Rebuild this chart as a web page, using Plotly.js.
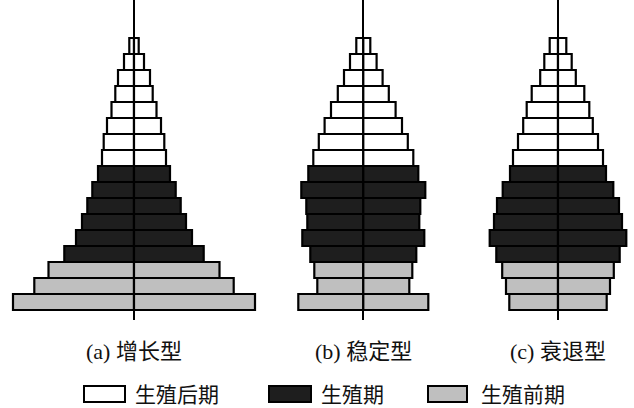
<!DOCTYPE html>
<html>
<head>
<meta charset="utf-8">
<script src="https://cdn.plot.ly/plotly-3.0.1.min.js"></script>
<style>body{margin:0;background:#fff}</style>
</head>
<body>
<div id="chart" style="width:634px;height:408px"></div>
<script>
// age groups, bottom (youngest) to top (oldest)
var ageGroups = ['0-4', '5-9', '10-14', '15-19', '20-24', '25-29', '30-34', '35-39', '40-44',
                 '45-49', '50-54', '55-59', '60-64', '65-69', '70-74', '75-79', '80+'];
var stageOf = ['pre', 'pre', 'pre', 'rep', 'rep', 'rep', 'rep', 'rep', 'rep',
               'post', 'post', 'post', 'post', 'post', 'post', 'post', 'post'];

// half widths (one side of the pyramid), bottom to top
var growing   = [121, 99.7, 85.5, 69.7, 58, 52, 46.7, 41.7, 36, 32, 30.3, 27, 22.5, 18.7, 16, 10, 4.7];
var stable    = [65, 46, 49, 53, 61, 56, 57, 62, 55, 50, 44.5, 38.7, 32.3, 25.5, 19.3, 13.3, 7];
var declining = [48.7, 52, 55.8, 61.7, 68.3, 64, 61, 55.3, 48, 45, 40, 34.8, 31.3, 26.3, 17.8, 13.7, 8.3];

var captions = ['(a) 增长型', '(b) 稳定型', '(c) 衰退型'];
var legendKeys = ['post', 'rep', 'pre'];
var legendLabels = ['生殖后期', '生殖期', '生殖前期'];

var stageColor = { post: '#ffffff', rep: '#1e1e1e', pre: '#bfbfbf' };
var colors = stageOf.map(function(s) { return stageColor[s]; });

var W = 634, plotH = 320;
var pyramids = [
    { vals: growing,   ax: 'x',  px: [0, 268],     half: 134 },
    { vals: stable,    ax: 'x2', px: [290, 436.6], half: 73.3 },
    { vals: declining, ax: 'x3', px: [485, 631],   half: 73 }
];

var data = [];
pyramids.forEach(function(p) {
    [-1, 1].forEach(function(side) {
        data.push({
            type: 'bar',
            orientation: 'h',
            y: ageGroups,
            x: p.vals.map(function(v) { return side * v; }),
            xaxis: p.ax,
            yaxis: 'y',
            marker: { color: colors, line: { color: '#000', width: 2.2 } },
            hoverinfo: 'skip',
            showlegend: false
        });
    });
});

var layout = {
    width: W,
    height: 408,
    margin: { l: 0, r: 0, t: 0, b: 88 },
    paper_bgcolor: '#fff',
    plot_bgcolor: 'rgba(0,0,0,0)',
    barmode: 'overlay',
    bargap: 0,
    showlegend: false,
    yaxis: { type: 'category', range: [-1.125, 18.875], visible: false, fixedrange: true },
    annotations: [],
    shapes: []
};

pyramids.forEach(function(p, i) {
    var name = i === 0 ? 'xaxis' : 'xaxis' + (i + 1);
    layout[name] = {
        domain: [p.px[0] / W, p.px[1] / W],
        range: [-p.half, p.half],
        anchor: 'y',
        showgrid: false,
        showticklabels: false,
        ticks: '',
        showline: false,
        zeroline: true,
        zerolinecolor: '#000',
        zerolinewidth: 1.8,
        fixedrange: true
    };
    layout.annotations.push({
        text: captions[i],
        xref: 'paper', yref: 'paper',
        x: (p.px[0] + p.px[1]) / 2 / W,
        y: -31 / plotH,
        xanchor: 'center', yanchor: 'middle',
        showarrow: false,
        font: { family: 'Liberation Serif, Noto Sans CJK SC', size: 22, color: '#111' }
    });
});

// legend row: box then label
var boxX = [[84, 125], [269, 311], [428, 467]];
var labelX = [133, 319, 479];
legendKeys.forEach(function(k, i) {
    layout.shapes.push({
        type: 'rect', xref: 'paper', yref: 'paper',
        x0: boxX[i][0] / W, x1: boxX[i][1] / W,
        y0: (plotH - 402) / plotH, y1: (plotH - 386) / plotH,
        fillcolor: stageColor[k],
        line: { color: '#000', width: 2 }
    });
    layout.annotations.push({
        text: legendLabels[i],
        xref: 'paper', yref: 'paper',
        x: labelX[i] / W, y: (plotH - 393) / plotH,
        xanchor: 'left', yanchor: 'middle',
        showarrow: false,
        font: { family: 'Noto Sans CJK SC', size: 21, color: '#111' }
    });
});

Plotly.newPlot('chart', data, layout, { displayModeBar: false, staticPlot: true });
</script>
</body>
</html>
